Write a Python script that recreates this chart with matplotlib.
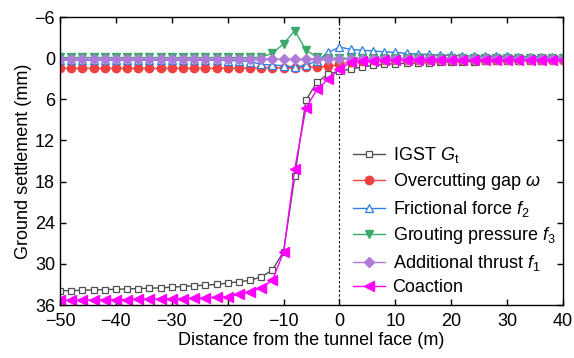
import numpy as np
import matplotlib
matplotlib.use('Agg')
import matplotlib.pyplot as plt

plt.rcParams['font.family'] = ['Liberation Sans', 'DejaVu Sans']
plt.rcParams['mathtext.fontset'] = 'custom'
plt.rcParams['mathtext.rm'] = 'Liberation Sans'
plt.rcParams['mathtext.it'] = 'Liberation Sans:italic'

# distance from the tunnel face (m), one point every 2 m
dist = np.arange(-50, 41, 2)

igst = [33.9, 33.9, 33.85, 33.8, 33.75, 33.7, 33.65, 33.6, 33.55, 33.5,
        33.4, 33.3, 33.2, 33.1, 33.0, 32.8, 32.6, 32.4, 31.9, 30.9,
        28.2, 17.2, 6.1, 3.5, 2.3, 1.9, 1.6, 1.3, 1.06, 0.92,
        0.8, 0.75, 0.7, 0.65, 0.6, 0.55, 0.52, 0.5, 0.47, 0.45,
        0.42, 0.4, 0.38, 0.36, 0.34, 0.32]
overcut = [1.5, 1.5, 1.5, 1.5, 1.5, 1.5, 1.5, 1.5, 1.5, 1.5,
           1.5, 1.5, 1.5, 1.5, 1.5, 1.45, 1.45, 1.45, 1.4, 1.4,
           1.4, 1.4, 1.35, 1.3, 1.2, 0.9, 0.5, 0.35, 0.3, 0.3,
           0.3, 0.3, 0.3, 0.3, 0.3, 0.3, 0.3, 0.3, 0.3, 0.3,
           0.3, 0.3, 0.3, 0.3, 0.3, 0.3]
friction = [0.3, 0.3, 0.3, 0.3, 0.3, 0.3, 0.3, 0.3, 0.3, 0.3,
            0.3, 0.3, 0.3, 0.3, 0.3, 0.35, 0.4, 0.5, 0.9, 1.0,
            1.1, 1.3, 1.0, 0.4, -0.85, -1.6, -1.3, -1.15, -1.05, -0.92,
            -0.83, -0.7, -0.6, -0.54, -0.45, -0.4, -0.35, -0.3, -0.3, -0.25,
            -0.25, -0.2, -0.2, -0.2, -0.15, -0.15]
grouting = [-0.1, -0.1, -0.1, -0.1, -0.1, -0.1, -0.1, -0.1, -0.1, -0.1,
            -0.1, -0.1, -0.1, -0.1, -0.1, -0.1, -0.1, -0.1, -0.15, -0.7,
            -2.1, -4.0, -1.2, -0.1, 0.0, 0.0, 0.0, 0.0, 0.0, 0.0,
            0.0, 0.0, 0.0, 0.0, 0.0, 0.0, 0.0, 0.0, 0.0, 0.0,
            0.0, 0.0, 0.0, 0.0, 0.0, 0.0]
thrust = [0.15] * 25 + [0.1] * 21
coaction = [35.3, 35.3, 35.3, 35.25, 35.25, 35.2, 35.2, 35.15, 35.15, 35.1,
            35.1, 35.05, 35.0, 34.95, 34.9, 34.8, 34.4, 34.1, 33.5, 32.4,
            28.3, 16.1, 7.3, 4.5, 3.1, 1.6, 0.6, 0.4, 0.35, 0.3,
            0.3, 0.3, 0.3, 0.3, 0.3, 0.3, 0.3, 0.3, 0.3, 0.3,
            0.3, 0.3, 0.3, 0.3, 0.3, 0.3]

fig = plt.figure(figsize=(5.74, 3.58), dpi=100)
ax = fig.add_axes([0.1045, 0.148, 0.8765, 0.8045])

ax.axvline(0, color='k', ls=(0, (2, 2)), lw=0.8, zorder=1)

ax.plot(dist, igst, color='#505050', lw=1, marker='s', ms=5, mfc='white',
        mec='#505050', mew=0.9, label=r'IGST $G_{\mathrm{t}}$')
ax.plot(dist, overcut, color='#f04040', lw=1, marker='o', ms=6,
        label=r'Overcutting gap $\omega$')
ax.plot(dist, friction, color='#2f7fe0', lw=1, marker='^', ms=6, mfc='white',
        mec='#2f7fe0', mew=0.9, label=r'Frictional force $f_{\mathrm{2}}$')
ax.plot(dist, grouting, color='#3aaa6a', lw=1, marker='v', ms=6,
        label=r'Grouting pressure $f_{\mathrm{3}}$')
ax.plot(dist, thrust, color='#b07ad8', lw=1, marker='D', ms=5,
        label=r'Additional thrust $f_{\mathrm{1}}$')
ax.plot(dist, coaction, color='#ff00ff', lw=1, marker='<', ms=7,
        label='Coaction')

ax.set_xlim(-50, 40)
ax.set_ylim(36, -6)
ax.set_xticks(np.arange(-50, 41, 10))
ax.set_yticks(np.arange(-6, 37, 6))
ax.tick_params(direction='in', top=True, right=True, labelsize=13, length=4, width=1)
ax.tick_params(axis='x', pad=6)
for s in ax.spines.values():
    s.set_linewidth(1)
ax.set_xlabel('Distance from the tunnel face (m)', fontsize=13, labelpad=1)
ax.set_ylabel('Ground settlement (mm)', fontsize=13, labelpad=2)

ax.legend(loc='upper left', bbox_to_anchor=(0.557, 0.6), frameon=False, fontsize=13,
          handlelength=1.8, handletextpad=0.4, labelspacing=0.36, borderpad=0.2)

fig.savefig('out.png', dpi=100)
